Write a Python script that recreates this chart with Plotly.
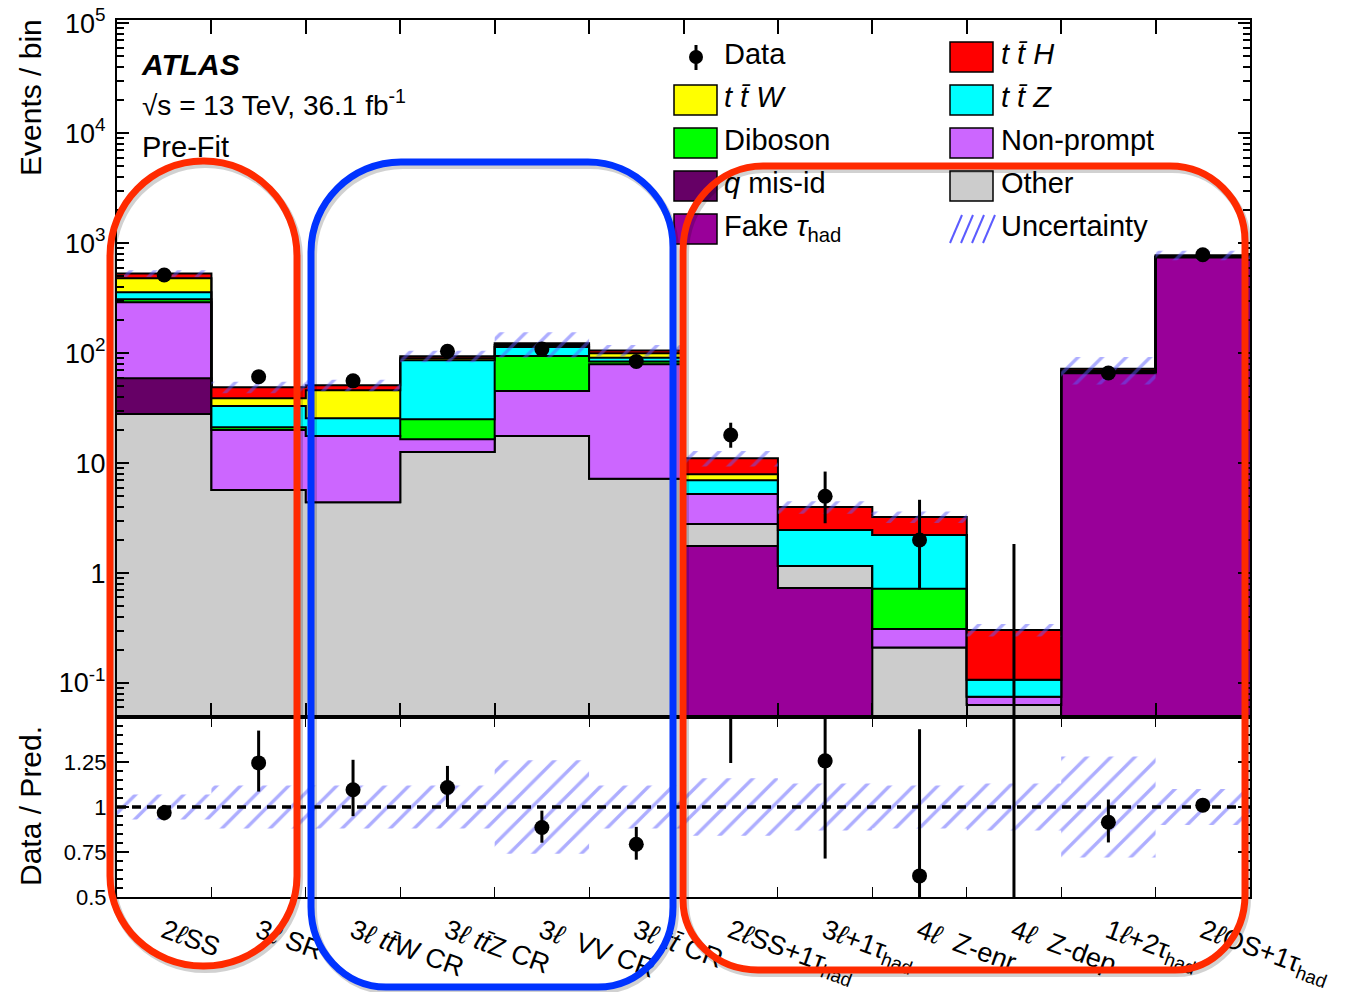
import numpy as np
import plotly.graph_objects as go

# ---------------- data ----------------
regions = [
    "2<i>ℓ</i>SS", "3<i>ℓ</i> SR", "3<i>ℓ</i> <i>tt̄</i>W CR", "3<i>ℓ</i> <i>tt̄</i>Z CR",
    "3<i>ℓ</i>  VV CR", "3<i>ℓ</i> <i>tt̄</i> CR", "2<i>ℓ</i>SS+1τ<sub>had</sub>",
    "3<i>ℓ</i>+1τ<sub>had</sub>", "4<i>ℓ</i>  Z-enr", "4<i>ℓ</i>  Z-dep",
    "1<i>ℓ</i>+2τ<sub>had</sub>", "2<i>ℓ</i>OS+1τ<sub>had</sub>",
]

fake_tau  = [0, 0, 0, 0, 0, 0, 1.76, 0.73, 0, 0, 65.8, 740]
other     = [28, 5.7, 4.4, 12.6, 17.6, 7.2, 1.03, 0.43, 0.21, 0.063, 1.5, 8]
q_misid   = [31, 0, 0, 0, 0, 0, 0, 0, 0, 0, 0, 0]
nonprompt = [232, 14.3, 13.2, 3.9, 27.6, 72, 2.44, 0, 0.10, 0.012, 0, 0]
diboson   = [19, 1.2, 0, 8.6, 48.8, 4.8, 0, 0, 0.41, 0, 0.3, 3]
ttz       = [49, 11.8, 8, 61, 19.5, 6.9, 1.77, 1.3, 1.5, 0.032, 1.5, 6]
ttw       = [122, 6, 20.5, 4, 5, 9, 0.94, 0, 0, 0, 0.5, 5]
tth       = [50, 10, 5, 3.7, 4.5, 6, 3.15, 1.52, 1.02, 0.197, 2.5, 15]

# relative systematic uncertainty on the total prediction
rel_unc = [0.07, 0.12, 0.12, 0.12, 0.26, 0.12, 0.16, 0.13, 0.12, 0.13, 0.28, 0.10]

data        = [514, 61, 56, 104, 109, 84, 18, 5, 2, 0, 66, 785]
data_err_lo = [22.2, 7.8, 7.5, 10.2, 10.4, 9.1, 4.2, 2.16, 1.29, 0, 8.1, 28.0]
data_err_hi = [23.2, 8.8, 8.5, 11.2, 11.5, 10.2, 5.3, 3.38, 2.64, 1.84, 9.1, 29.0]

components = [
    ("Fake τ<sub>had</sub>", fake_tau, "#990099"),
    ("Other", other, "#cccccc"),
    ("<i>q</i> mis-id", q_misid, "#660066"),
    ("Non-prompt", nonprompt, "#cc66ff"),
    ("Diboson", diboson, "#00ff00"),
    ("<i>tt̄Z</i>", ttz, "#00ffff"),
    ("<i>tt̄W</i>", ttw, "#ffff00"),
    ("<i>tt̄H</i>", tth, "#ff0000"),
]

# ---------------- geometry ----------------
W, H = 1345, 992
ML, MR, MT, MB = 117, 95, 20, 95
PW, PH = W - ML - MR, H - MT - MB
SPLIT = 717                       # pixel row between main and ratio panel
RDOM = (H - MB - SPLIT) / PH
YLO, YHI = -1.309, 5.03
XLO, XHI = 0.5, 12.5
FONT = "Liberation Sans, Arial, Helvetica, sans-serif"
HATCH = "#5c5cff"
PATTERN = dict(shape="/", fgcolor=HATCH, bgcolor="rgba(0,0,0,0)", size=17, solidity=0.2)

nb = len(data)
edges = np.arange(nb + 1) + 0.5
centers = np.arange(1, nb + 1)
floor = 10 ** (YLO - 1)


def stepy(v):
    v = list(v)
    return v + [v[-1]]


def px_x(px):           # pixel -> paper
    return (px - ML) / PW


def px_y(py):
    return (H - MB - py) / PH


def dx(px):             # pixel -> main-panel data coords
    return XLO + (px - ML) / PW * (XHI - XLO)


def dy(py):
    return 10 ** (YHI - (py - MT) / (SPLIT - MT) * (YHI - YLO))


fig = go.Figure()

# ---------------- stacked prediction ----------------
fig.add_trace(go.Scatter(x=edges, y=[floor] * (nb + 1), mode="lines",
                         line=dict(width=0, shape="hv"), showlegend=False,
                         hoverinfo="skip", xaxis="x", yaxis="y"))
cum = np.zeros(nb)
for name, vals, col in components:
    cum = cum + np.array(vals, dtype=float)
    fig.add_trace(go.Scatter(
        x=edges, y=stepy(np.maximum(cum, floor)), mode="lines",
        line=dict(color="black", width=2, shape="hv"),
        fill="tonexty", fillcolor=col, name=name, showlegend=False,
        xaxis="x", yaxis="y"))
total = cum

# uncertainty band on the stack
unc = np.array(rel_unc)
fig.add_trace(go.Scatter(x=edges, y=stepy(total * (1 - unc)), mode="lines",
                         line=dict(width=0, color="rgba(0,0,0,0)", shape="hv"),
                         showlegend=False, hoverinfo="skip", xaxis="x", yaxis="y"))
fig.add_trace(go.Scatter(x=edges, y=stepy(total * (1 + unc)), mode="lines",
                         line=dict(width=0, color="rgba(0,0,0,0)", shape="hv"),
                         fill="tonexty", fillcolor="rgba(0,0,0,0)", fillpattern=PATTERN,
                         showlegend=False, hoverinfo="skip", xaxis="x", yaxis="y"))

# data points
data_a = np.array(data, dtype=float)
nz = data_a > 0
fig.add_trace(go.Scatter(
    x=centers[nz], y=data_a[nz], mode="markers",
    marker=dict(color="black", size=15),
    error_y=dict(type="data", array=np.array(data_err_hi)[nz],
                 arrayminus=np.array(data_err_lo)[nz], color="black",
                 thickness=3, width=0),
    showlegend=False, xaxis="x", yaxis="y"))
for i in np.where(~nz)[0]:
    fig.add_trace(go.Scatter(x=[centers[i], centers[i]], y=[floor, data[i] + data_err_hi[i]],
                             mode="lines", line=dict(color="black", width=3),
                             showlegend=False, xaxis="x", yaxis="y"))

# ---------------- ratio panel ----------------
fig.add_trace(go.Scatter(x=edges, y=stepy(1 - unc), mode="lines",
                         line=dict(width=0, color="rgba(0,0,0,0)", shape="hv"),
                         showlegend=False, hoverinfo="skip", xaxis="x2", yaxis="y2"))
fig.add_trace(go.Scatter(x=edges, y=stepy(1 + unc), mode="lines",
                         line=dict(width=0, color="rgba(0,0,0,0)", shape="hv"),
                         fill="tonexty", fillcolor="rgba(0,0,0,0)", fillpattern=PATTERN,
                         showlegend=False, hoverinfo="skip", xaxis="x2", yaxis="y2"))
fig.add_trace(go.Scatter(x=[XLO, XHI], y=[1, 1], mode="lines",
                         line=dict(color="black", width=3.5, dash="9px,6px"),
                         showlegend=False, hoverinfo="skip", xaxis="x2", yaxis="y2"))
ratio = data_a / total
fig.add_trace(go.Scatter(
    x=centers, y=ratio, mode="markers",
    marker=dict(color="black", size=15),
    error_y=dict(type="data", array=np.array(data_err_hi) / total,
                 arrayminus=np.array(data_err_lo) / total, color="black",
                 thickness=3, width=0),
    cliponaxis=True, showlegend=False, xaxis="x2", yaxis="y2"))

# ---------------- texts inside the main panel ----------------
def txt(px, py, s, size=29):
    fig.add_trace(go.Scatter(x=[dx(px)], y=[dy(py)], mode="text", text=[s],
                             textposition="middle right",
                             textfont=dict(family=FONT, size=size, color="black"),
                             showlegend=False, hoverinfo="skip", xaxis="x", yaxis="y"))


txt(142, 67, "<b><i>ATLAS</i></b>", 30)
txt(142, 108, "√s = 13 TeV, 36.1 fb<sup>-1</sup>", 28)
txt(142, 150, "Pre-Fit", 29)

rows = [57, 100, 143, 186, 229]
col1 = [("Data", None), ("<i>t t̄ W</i>", "#ffff00"), ("Diboson", "#00ff00"),
        ("<i>q</i> mis-id", "#660066"), ("Fake <i>τ</i><sub>had</sub>", "#990099")]
col2 = [("<i>t t̄ H</i>", "#ff0000"), ("<i>t t̄ Z</i>", "#00ffff"), ("Non-prompt", "#cc66ff"),
        ("Other", "#cccccc"), ("Uncertainty", "hatch")]

shapes = []


def box(x0, y0, x1, y1, col):
    shapes.append(dict(type="rect", xref="paper", yref="paper", layer="above",
                       x0=px_x(x0), x1=px_x(x1), y0=px_y(y1), y1=px_y(y0),
                       fillcolor=col, line=dict(color="black", width=1.5)))


for (lab, col), ry in zip(col1, rows):
    txt(724, ry, lab)
    if col is None:
        shapes.append(dict(type="line", xref="paper", yref="paper", layer="above",
                           x0=px_x(696), x1=px_x(696), y0=px_y(45), y1=px_y(70),
                           line=dict(color="black", width=3)))
        shapes.append(dict(type="circle", xref="paper", yref="paper", layer="above",
                           x0=px_x(689), x1=px_x(703), y0=px_y(50), y1=px_y(64),
                           fillcolor="black", line=dict(color="black", width=0)))
    else:
        box(674, ry - 15, 717, ry + 15, col)
for (lab, col), ry in zip(col2, rows):
    txt(1001, ry, lab)
    if col == "hatch":
        for k in range(4):
            shapes.append(dict(type="line", xref="paper", yref="paper", layer="above",
                               x0=px_x(950 + 11 * k), x1=px_x(962 + 11 * k),
                               y0=px_y(243), y1=px_y(215),
                               line=dict(color=HATCH, width=2)))
    else:
        box(950, ry - 15, 993, ry + 15, col)


# ---------------- highlighted groups of regions ----------------
def rrect(x0, y0, x1, y1, tl, tr, br, bl, ox=0, oy=0):
    k = 0.5523
    x0, x1, y0, y1 = x0 + ox, x1 + ox, y0 + oy, y1 + oy

    def P(x, y):
        return f"{px_x(x):.5f},{px_y(y):.5f}"
    p = [f"M{P(x0 + tl[0], y0)}", f"L{P(x1 - tr[0], y0)}",
         f"C{P(x1 - tr[0] + k * tr[0], y0)} {P(x1, y0 + tr[1] - k * tr[1])} {P(x1, y0 + tr[1])}",
         f"L{P(x1, y1 - br[1])}",
         f"C{P(x1, y1 - br[1] + k * br[1])} {P(x1 - br[0] + k * br[0], y1)} {P(x1 - br[0], y1)}",
         f"L{P(x0 + bl[0], y1)}",
         f"C{P(x0 + bl[0] - k * bl[0], y1)} {P(x0, y1 - bl[1] + k * bl[1])} {P(x0, y1 - bl[1])}",
         f"L{P(x0, y0 + tl[1])}",
         f"C{P(x0, y0 + tl[1] - k * tl[1])} {P(x0 + tl[0] - k * tl[0], y0)} {P(x0 + tl[0], y0)}",
         "Z"]
    return " ".join(p)


groups = [
    ((110, 161, 297, 966, (93, 95), (93, 95), (93, 90), (93, 90)), "#ff2a00"),
    ((311, 162, 673, 987, (90, 90), (85, 85), (75, 80), (75, 80)), "#0033ff"),
    ((683, 166, 1245, 970, (80, 85), (75, 75), (70, 75), (75, 70)), "#ff2a00"),
]
for g, col in groups:
    shapes.append(dict(type="path", xref="paper", yref="paper", layer="above",
                       path=rrect(*g, ox=2, oy=3),
                       line=dict(color="rgba(0,0,0,0.18)", width=8)))
for g, col in groups:
    shapes.append(dict(type="path", xref="paper", yref="paper", layer="above",
                       path=rrect(*g), line=dict(color=col, width=7)))

# ---------------- axes ----------------
ytv = [10.0 ** e for e in range(-1, 6)]
ytt = ["10<sup>-1</sup>", "1", "10", "10<sup>2</sup>", "10<sup>3</sup>",
       "10<sup>4</sup>", "10<sup>5</sup>"]
yminor = [m * 10.0 ** e for e in range(-2, 5) for m in range(2, 10)]

axis_common = dict(showline=True, linecolor="black", linewidth=2, mirror="ticks",
                   showgrid=False, zeroline=False, tickcolor="black", tickwidth=1.5,
                   automargin=False)

fig.update_layout(
    width=W, height=H,
    margin=dict(l=ML, r=MR, t=MT, b=MB, autoexpand=False),
    paper_bgcolor="white", plot_bgcolor="white",
    font=dict(family=FONT, color="black"),
    showlegend=False,
    xaxis=dict(domain=[0, 1], anchor="y", range=[XLO, XHI], tickmode="array",
               tickvals=list(edges[1:-1]), ticks="inside", ticklen=14,
               showticklabels=False, **axis_common),
    yaxis=dict(domain=[RDOM, 1], anchor="x", type="log", range=[YLO, YHI],
               tickmode="array", tickvals=ytv, ticktext=ytt, ticks="inside",
               ticklen=12, tickfont=dict(size=27), ticklabelstandoff=4,
               minor=dict(tickmode="array", tickvals=yminor, ticks="inside",
                          ticklen=7, tickcolor="black"),
               **axis_common),
    xaxis2=dict(domain=[0, 1], anchor="y2", range=[XLO, XHI], tickmode="array",
                tickvals=list(centers), ticktext=regions, ticks="", tickangle=20,
                tickfont=dict(size=27), ticklabelstandoff=6,
                minor=dict(tickmode="array", tickvals=list(edges[1:-1]), ticks="inside",
                           ticklen=10, tickcolor="black"),
                **axis_common),
    yaxis2=dict(domain=[0, RDOM], anchor="x2", range=[0.5, 1.5], tickmode="array",
                tickvals=[0.5, 0.75, 1, 1.25], ticktext=["0.5", "0.75", "1", "1.25"],
                ticks="inside", ticklen=12, tickfont=dict(size=22), ticklabelstandoff=4,
                minor=dict(tickmode="array", tickvals=[0.55 + 0.05 * i for i in range(19)],
                           ticks="inside", ticklen=6, tickcolor="black"),
                **axis_common),
    shapes=shapes,
    annotations=[
        dict(text="Events / bin", xref="paper", yref="paper", x=px_x(30), y=px_y(98),
             xanchor="center", yanchor="middle",
             textangle=-90, showarrow=False, font=dict(size=30)),
        dict(text="Data / Pred.", xref="paper", yref="paper", x=px_x(30), y=px_y(806),
             xanchor="center", yanchor="middle",
             textangle=-90, showarrow=False, font=dict(size=30)),
    ],
)

fig.write_html("out.html")
